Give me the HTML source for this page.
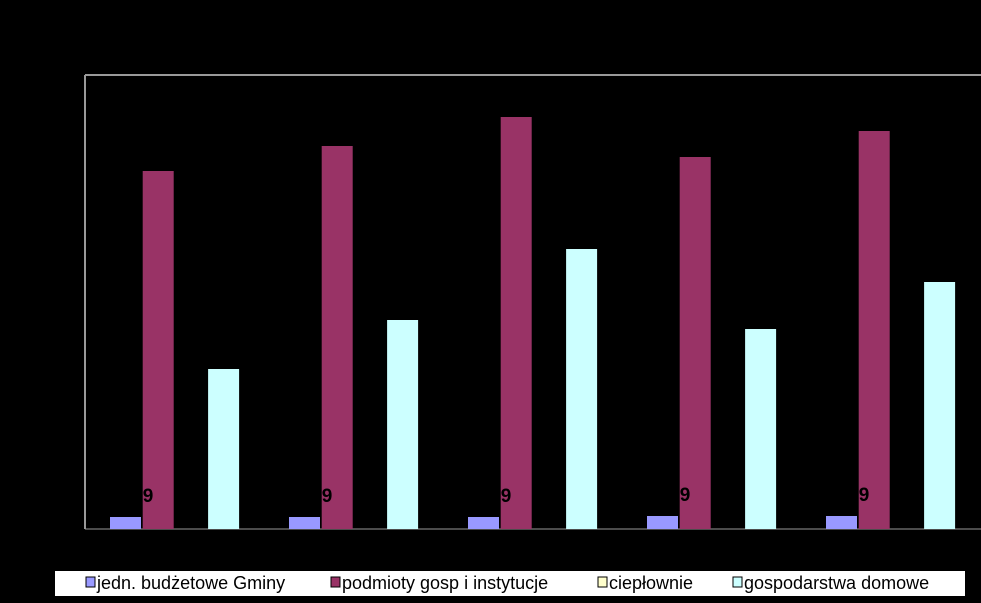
<!DOCTYPE html>
<html><head><meta charset="utf-8"><style>
body{margin:0;background:#000;width:981px;height:598px;overflow:hidden;font-family:"Liberation Sans",sans-serif}
</style></head><body>
<svg id="c" width="981" height="598" xmlns="http://www.w3.org/2000/svg">
<rect x="0" y="0" width="981" height="598" fill="#000"/>
<line x1="85" y1="75" x2="981" y2="75" stroke="#999" stroke-width="2"/>
<line x1="85" y1="75" x2="85" y2="529" stroke="#999" stroke-width="2"/>
<line x1="85" y1="529" x2="981" y2="529" stroke="#999" stroke-width="1"/>
<g id="bars"></g>
<g>
<rect x="55" y="571" width="910" height="25" fill="#fff"/>
<g id="leg"></g>
</g>
</svg>
<script>
const categories=["1","2","3","4","5"];
const budzetowe=[12,12,12,13,13];
const podmioty=[358,383,412,372,398];
const cieplownie=[0,0,0,0,0];
const gospodarstwa=[160,209,280,200,247];
const labels=["9","9","9","9","9"];
const seriesNames=["jedn. budżetowe Gminy","podmioty gosp i instytucje","ciepłownie","gospodarstwa domowe"];
const yMax=454;
const NS="http://www.w3.org/2000/svg";
const x0=85,groupW=179,base=529,plotH=454,barW=31,off=25,step=32.7;
function yS(v){return base-v/yMax*plotH;}
function xS(i,s){return x0+i*groupW+off+s*step;}
const series=[budzetowe,podmioty,cieplownie,gospodarstwa];
const colors=["#9999ff","#993366","#ffffcc","#ccffff"];
const g=document.getElementById('bars');
series.forEach((arr,s)=>{arr.forEach((v,i)=>{
 if(v<=0)return;
 const r=document.createElementNS(NS,'rect');
 r.setAttribute('x',xS(i,s));r.setAttribute('y',yS(v));
 r.setAttribute('width',barW);r.setAttribute('height',base-yS(v));
 r.setAttribute('fill',colors[s]);
 
 
 g.appendChild(r);
});});
labels.forEach((t,i)=>{
 const tx=document.createElementNS(NS,'text');
 tx.setAttribute('x',xS(i,0)+38);tx.setAttribute('y',yS(budzetowe[i])-15);
 tx.setAttribute('text-anchor','middle');tx.setAttribute('font-size','19');
 tx.setAttribute('font-weight','bold');tx.setAttribute('fill','#000');
 tx.textContent=t;
 
 
 g.appendChild(tx);
});
const lx=[86,331,598,733];
const leg=document.getElementById('leg');
seriesNames.forEach((n,s)=>{
 const m=document.createElementNS(NS,'rect');
 m.setAttribute('x',lx[s]);m.setAttribute('y',577);m.setAttribute('width',9);m.setAttribute('height',10);
 m.setAttribute('fill',colors[s]);m.setAttribute('stroke','#000');m.setAttribute('stroke-width','1');
 
 
 leg.appendChild(m);
 const t=document.createElementNS(NS,'text');
 t.setAttribute('x',lx[s]+11);t.setAttribute('y',589);t.setAttribute('font-size','18');t.setAttribute('fill','#000');
 t.textContent=n;
 
 
 leg.appendChild(t);
});
</script>
</body></html>
